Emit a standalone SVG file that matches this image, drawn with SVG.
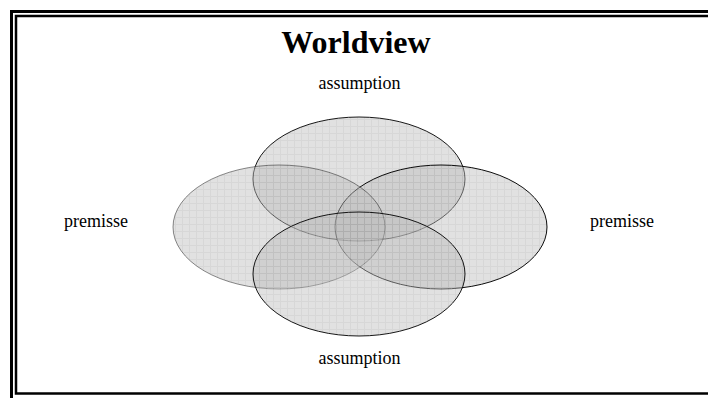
<svg xmlns="http://www.w3.org/2000/svg" width="708" height="398" viewBox="0 0 708 398">
<style>
.t{font-family:"Liberation Serif","Times New Roman",serif;fill:#000;text-anchor:middle}
.lbl{font-size:18px}
.title{font-size:32px;font-weight:bold}
.ell{fill:url(#grid);fill-opacity:0.45}
</style>
<defs>
<pattern id="grid" patternUnits="userSpaceOnUse" width="7" height="7">
<rect width="7" height="7" fill="#bcbcbc"/>
<path d="M0 0.5H7M0.5 0V7" stroke="#a6a6a6" stroke-width="1" fill="none"/>
</pattern>
</defs>
<rect width="708" height="398" fill="#fff"/>
<g id="frame" fill="none">
<rect x="11.5" y="11.5" width="800" height="500" stroke="#000" stroke-width="3"/>
<rect x="16" y="16" width="800" height="377.5" stroke="#000" stroke-width="2.5"/>
</g>
<g id="title"><text class="t title" x="356" y="53">Worldview</text></g>
<g id="top"><ellipse class="ell" cx="359" cy="179" rx="106" ry="62" stroke="#000" stroke-opacity="0.9"/></g>
<g id="right"><ellipse class="ell" cx="441" cy="227" rx="106" ry="62" stroke="#000" stroke-opacity="0.95"/></g>
<g id="left"><ellipse class="ell" cx="279" cy="227" rx="106" ry="62" stroke="#000" stroke-opacity="0.45"/></g>
<g id="bottom"><ellipse class="ell" cx="359" cy="274" rx="106" ry="62" stroke="#000" stroke-opacity="0.9"/></g>
<g id="labels">
<text class="t lbl" x="359.5" y="89">assumption</text>
<text class="t lbl" x="96" y="227">premisse</text>
<text class="t lbl" x="622" y="227">premisse</text>
<text class="t lbl" x="359.5" y="364">assumption</text>
</g>
</svg>
